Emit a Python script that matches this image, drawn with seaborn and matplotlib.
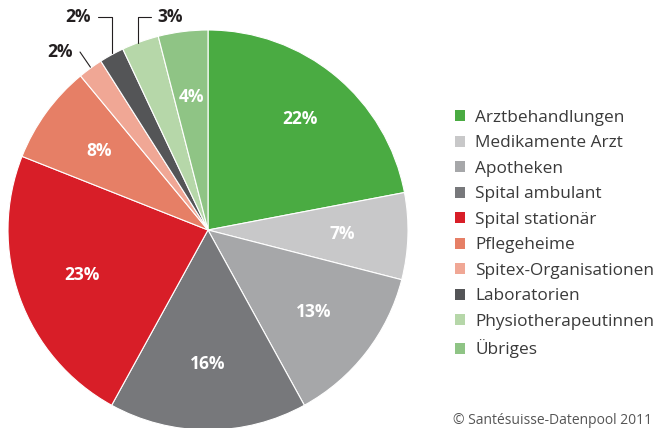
import numpy as np
import matplotlib
matplotlib.use("Agg")
import matplotlib.pyplot as plt
import seaborn as sns
from matplotlib.patches import Patch

# Cost shares by provider group (percent)
categories = ['Arztbehandlungen', 'Medikamente Arzt', 'Apotheken', 'Spital ambulant',
              'Spital stationär', 'Pflegeheime', 'Spitex-Organisationen', 'Laboratorien',
              'Physiotherapeutinnen', 'Übriges']
shares = [22, 7, 13, 16, 23, 8, 2, 2, 3, 4]
colors = ['#4aab42', '#c8c8c9', '#a6a7a9', '#77787b', '#d81e28',
          '#e67f66', '#f0a795', '#545557', '#b6d7a9', '#8fc485']
# label positions for the thin slices drawn outside the pie
outside = {6: (-0.74, 0.89), 7: (-0.65, 1.065), 8: (-0.19, 1.065)}

sns.set_theme(style="white")
plt.rcParams['font.family'] = ['Open Sans', 'DejaVu Sans']

fig = plt.figure(figsize=(6.6, 4.28), dpi=100)
ax = fig.add_axes([8 / 660, -2 / 428, 400 / 660, 400 / 428])

wedges, _ = ax.pie(shares, colors=colors, startangle=90, counterclock=False,
                   wedgeprops=dict(edgecolor='white', linewidth=0.8))
ax.set_xlim(-1, 1)
ax.set_ylim(-1, 1)
ax.set_aspect('equal')
ax.axis('off')

for i, w in enumerate(wedges):
    ang = np.deg2rad((w.theta1 + w.theta2) / 2)
    if i in outside:
        tx, ty = outside[i]
        ax.text(tx, ty, f'{shares[i]}%', ha='center', va='center', fontsize=12.5,
                fontweight='bold', color='#231f20')
        ex, ey = np.cos(ang), np.sin(ang)
        if i == 6:
            ax.plot([tx + 0.1, ex], [ty, ey + 0.005], color='#231f20', lw=0.8, clip_on=False)
        elif i == 7:
            ax.plot([tx + 0.1, ex, ex], [ty, ty, ey + 0.01], color='#231f20', lw=0.8, clip_on=False)
        else:
            ax.plot([tx - 0.095, ex - 0.01, ex - 0.01], [ty, ty, ey - 0.005], color='#231f20', lw=0.8, clip_on=False)
    else:
        r = 0.72 if i == 0 else 0.67
        ax.text(r * np.cos(ang), r * np.sin(ang), f'{shares[i]}%', ha='center', va='center',
                fontsize=12.5, fontweight='bold', color='white')

handles = [Patch(facecolor=c, edgecolor='none') for c in colors]
fig.legend(handles, categories, loc='upper left', bbox_to_anchor=(455 / 660, 1 - 110 / 428),
           frameon=False, fontsize=12.4, handlelength=0.6, handleheight=0.6,
           handletextpad=0.58, labelspacing=0.55, borderpad=0, borderaxespad=0,
           labelcolor='#3a3a3a')

fig.text(453 / 660, 1 - 420 / 428, '© Santésuisse-Datenpool 2011', fontsize=10,
         color='#555555', ha='left', va='center')

fig.savefig('out.png', dpi=100)
